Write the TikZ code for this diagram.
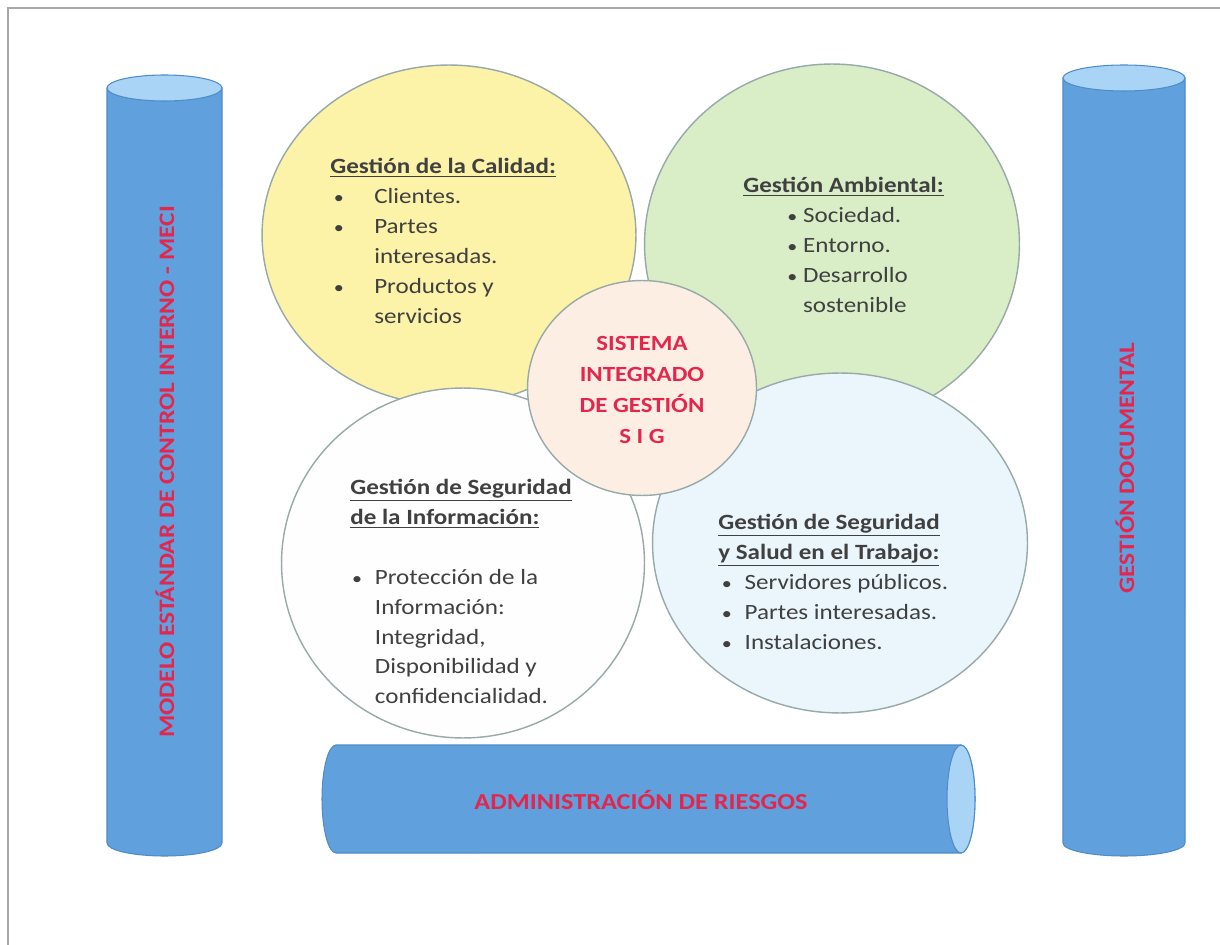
\documentclass[tikz,border=0pt]{standalone}
\usepackage{fontspec}
\setmainfont{Carlito}[FakeStretch=1.15]
\usetikzlibrary{shapes.geometric}
\definecolor{framec}{HTML}{A8A8A8}
\definecolor{cylc}{HTML}{5FA0DD}
\definecolor{cyldark}{HTML}{4F8CC9}
\definecolor{captop}{HTML}{A9D4F5}
\definecolor{redt}{HTML}{E4264C}
\definecolor{yellowc}{HTML}{FCF2A8}
\definecolor{greenc}{HTML}{D9EEC6}
\definecolor{whitec}{HTML}{FEFEFE}
\definecolor{bluec}{HTML}{EBF6FC}
\definecolor{centerc}{HTML}{FDEEE4}
\definecolor{outl}{HTML}{97A9A8}
\definecolor{bodyt}{HTML}{404040}
\newcommand{\hd}[1]{\textbf{\underline{#1}}}
\newcommand{\bi}[3]{\hspace*{#1}\makebox[#2][l]{\scalebox{0.8}{•}}#3}
\begin{document}
\begin{tikzpicture}[x=0.02cm,y=-0.02cm,
  frame/.style={draw=framec,line width=1.2pt},
  cylbody/.style={fill=cylc,draw=cyldark,line width=0.6pt},
  cylcap/.style={fill=captop,draw=cyldark,line width=0.6pt},
  bubble/.style={draw=outl,line width=0.8pt},
  txt/.style={inner sep=0pt,align=left,text=bodyt,font=\fontsize{12.4}{17}\selectfont},
  redlbl/.style={inner sep=0pt,text=redt,font=\bfseries\fontsize{12.6}{15}\selectfont}]
\useasboundingbox (0,0) rectangle (1220,945);
\fill[white] (0,0) rectangle (1220,945);
\draw[frame] (8,945) -- (8,8) -- (1220,8);
% left cylinder
\path[cylbody] (107,88) -- (107,843) arc[start angle=180,end angle=360,x radius=1.15cm,y radius=0.26cm] -- (222,88) -- cycle;
\path[cylcap] (164.5,88) ellipse[x radius=1.15cm,y radius=0.26cm];
% right cylinder
\path[cylbody] (1063,78) -- (1063,843) arc[start angle=180,end angle=360,x radius=1.22cm,y radius=0.26cm] -- (1185,78) -- cycle;
\path[cylcap] (1124,78) ellipse[x radius=1.22cm,y radius=0.26cm];
% bottom cylinder
\path[cylbody] (336,745) -- (961,745) arc[start angle=90,end angle=-90,x radius=0.28cm,y radius=1.08cm] -- (336,853) arc[start angle=270,end angle=90,x radius=0.28cm,y radius=1.08cm] -- cycle;
\path[cylcap] (961,799) ellipse[x radius=0.28cm,y radius=1.08cm];
% bubbles
\node[bubble,ellipse,fill=yellowc,minimum width=7.48cm,minimum height=6.8cm,inner sep=0pt] (q) at (449,235) {};
\node[bubble,ellipse,fill=greenc,minimum width=7.5cm,minimum height=7.2cm,inner sep=0pt] (a) at (832,244) {};
\node[bubble,ellipse,fill=whitec,minimum width=7.26cm,minimum height=7.0cm,inner sep=0pt] (s) at (463,563) {};
\node[bubble,ellipse,fill=bluec,minimum width=7.5cm,minimum height=6.8cm,inner sep=0pt] (t) at (840,543) {};
\node[bubble,ellipse,fill=centerc,minimum width=4.58cm,minimum height=4.3cm,inner sep=0pt] (c) at (642,388) {};
% texts
\node[txt,anchor=north west] (tq) at (330,158) {\hd{Gestión de la Calidad:}\\
 \bi{2pt}{23pt}{Clientes.}\\ \bi{2pt}{23pt}{Partes}\\ \hspace*{25pt}interesadas.\\
 \bi{2pt}{23pt}{Productos y}\\ \hspace*{25pt}servicios};
\node[txt,anchor=north west] (ta) at (743,177) {\hd{Gestión Ambiental:}\\
 \bi{25pt}{9pt}{Sociedad.}\\ \bi{25pt}{9pt}{Entorno.}\\ \bi{25pt}{9pt}{Desarrollo}\\ \hspace*{34pt}sostenible};
\node[txt,anchor=north west] (ts) at (350,479) {\hd{Gestión de Seguridad}\\ \hd{de la Información:}\\[17pt]
 \bi{1pt}{13pt}{Protección de la}\\ \hspace*{14pt}Información:\\ \hspace*{14pt}Integridad,\\
 \hspace*{14pt}Disponibilidad y\\ \hspace*{14pt}confidencialidad.};
\node[txt,anchor=north west] (tt) at (718,514) {\hd{Gestión de Seguridad}\\ \hd{y Salud en el Trabajo:}\\
 \bi{2pt}{13pt}{Servidores públicos.}\\ \bi{2pt}{13pt}{Partes interesadas.}\\ \bi{2pt}{13pt}{Instalaciones.}};
\node[inner sep=0pt,align=center,text=redt,font=\bfseries\fontsize{12.3}{17.6}\selectfont] (tc) at (642,390) {SISTEMA\\ INTEGRADO\\ DE GESTIÓN\\ S I G};
\node[redlbl,rotate=90] (tl) at (165,472) {MODELO ESTÁNDAR DE CONTROL INTERNO - MECI};
\node[redlbl,rotate=90] (tr) at (1125,468) {GESTIÓN DOCUMENTAL};
\node[redlbl,font=\bfseries\fontsize{13}{15}\selectfont] (tb) at (641,800) {ADMINISTRACIÓN DE RIESGOS};
\end{tikzpicture}
\end{document}
